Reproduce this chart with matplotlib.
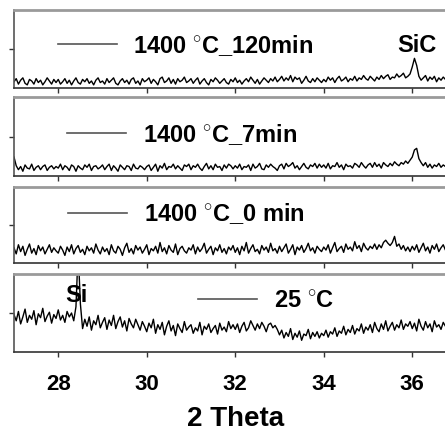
import matplotlib.pyplot as plt
from matplotlib.lines import Line2D
import numpy as np

plt.rcParams['font.family'] = ['Liberation Sans', 'DejaVu Sans']
plt.rcParams['font.weight'] = 'bold'
plt.rcParams['mathtext.fontset'] = 'custom'
plt.rcParams['mathtext.rm'] = 'Liberation Sans:bold'
plt.rcParams['mathtext.default'] = 'rm'

# 2 theta grid, 0.05 deg step
two_theta = np.round(np.arange(27.0, 36.81, 0.05), 2)

# intensities (arb. units, each panel scaled 0..100)
i_120min = [
    8, 12, 5, 10, 13, 6, 4, 11, 9, 5, 12, 7, 10, 4, 8, 13, 9, 5, 11, 7,
    11, 5, 8, 12, 6, 10, 4, 9, 13, 7, 5, 11, 8, 12, 6, 9, 4, 10, 13, 7,
    9, 5, 12, 7, 10, 13, 6, 4, 9, 12, 7, 10, 5, 11, 13, 6, 9, 4, 12, 8,
    10, 13, 6, 11, 8, 4, 12, 14, 7, 9, 13, 6, 11, 5, 12, 8, 10, 14, 7, 9,
    12, 6, 10, 13, 5, 9, 12, 7, 4, 11, 8, 13, 10, 6, 9, 12, 7, 5, 11, 8,
    13, 7, 10, 5, 9, 12, 8, 14, 10, 6, 11, 5, 9, 13, 10, 7, 12, 9, 14, 8,
    11, 15, 9, 13, 10, 16, 8, 14, 11, 13, 6, 10, 15, 9, 7, 12, 8, 13, 10, 7,
    11, 8, 14, 10, 13, 7, 12, 15, 9, 11, 14, 8, 12, 10, 15, 9, 13, 11, 16, 12,
    10, 15, 12, 9, 14, 11, 16, 12, 15, 17, 11, 14, 13, 18, 14, 16, 19, 13, 15, 18,
    27, 38, 29, 15, 10, 13, 16, 9, 14, 11, 15, 8, 13, 10, 14, 11, 13,
]
i_7min = [
    24, 13, 8, 12, 6, 14, 10, 9, 15, 7, 11, 13, 8, 12, 14, 7, 11, 13, 9, 12,
    10, 15, 8, 13, 11, 7, 14, 12, 6, 13, 10, 8, 14, 11, 15, 7, 12, 13, 9, 11,
    14, 8, 12, 15, 7, 13, 10, 6, 14, 11, 8, 13, 12, 7, 15, 10, 9, 13, 11, 8,
    12, 14, 7, 11, 15, 6, 13, 10, 16, 8, 12, 11, 15, 9, 13, 10, 7, 14, 12, 15,
    8, 13, 11, 15, 10, 7, 12, 16, 9, 13, 8, 15, 11, 12, 7, 14, 10, 15, 13, 9,
    13, 10, 15, 8, 12, 11, 14, 7, 15, 10, 12, 16, 9, 8, 14, 11, 15, 12, 10, 7,
    13, 15, 9, 16, 12, 14, 17, 10, 13, 8, 12, 16, 11, 9, 14, 12, 16, 10, 15, 11,
    14, 10, 16, 9, 13, 12, 17, 11, 14, 8, 15, 12, 13, 10, 16, 14, 11, 17, 13, 10,
    14, 16, 11, 17, 12, 15, 10, 17, 14, 12, 16, 13, 18, 15, 13, 17, 15, 19, 16, 20,
    24, 33, 35, 22, 17, 13, 17, 11, 15, 10, 14, 12, 16, 11, 14, 12, 15,
]
i_0min = [
    20, 12, 24, 15, 22, 10, 18, 25, 13, 19, 11, 23, 16, 21, 12, 18, 24, 14, 20, 16,
    13, 22, 17, 10, 21, 15, 24, 12, 19, 23, 14, 18, 11, 22, 16, 20, 13, 25, 17, 12,
    21, 15, 19, 11, 24, 16, 13, 22, 18, 10, 20, 26, 14, 19, 12, 23, 17, 21, 13, 18,
    24, 11, 19, 16, 22, 13, 27, 15, 20, 12, 23, 17, 14, 25, 11, 19, 22, 16, 13, 20,
    17, 24, 12, 21, 15, 19, 26, 13, 18, 22, 11, 20, 16, 24, 14, 19, 12, 21, 17, 23,
    14, 20, 11, 22, 16, 27, 13, 19, 24, 15, 18, 12, 23, 17, 21, 14, 26, 16, 19, 13,
    22, 15, 20, 25, 13, 18, 24, 11, 21, 17, 23, 14, 19, 26, 16, 20, 13, 22, 18, 15,
    21, 17, 24, 13, 20, 27, 15, 19, 22, 14, 25, 18, 21, 16, 28, 19, 23, 15, 26, 20,
    17, 22, 19, 25, 18, 24, 20, 27, 30, 26, 23, 27, 35, 22, 25, 18, 23, 16, 21, 15,
    22, 17, 24, 14, 20, 26, 16, 21, 13, 23, 18, 25, 15, 20, 24, 17, 21,
]
i_25c = [
    48, 40, 52, 36, 45, 55, 38, 47, 42, 53, 35, 49, 44, 56, 39, 46, 51, 37, 48, 43,
    54, 41, 47, 38, 52, 45, 50, 40, 58, 130, 62, 30, 42, 33, 45, 28, 40, 35, 47, 31,
    38, 44, 29, 41, 34, 47, 30, 39, 45, 32, 40, 27, 43, 36, 31, 42, 35, 28, 39, 33,
    26, 37, 31, 42, 24, 35, 29, 38, 22, 33, 40, 27, 34, 21, 36, 30, 25, 39, 28, 32,
    35, 24, 31, 27, 38, 22, 33, 29, 36, 25, 30, 34, 23, 37, 28, 32, 26, 39, 30, 35,
    29, 36, 25, 33, 38, 27, 31, 40, 34, 28, 36, 30, 38, 33, 26, 35, 37, 31, 34, 29,
    22, 28, 18, 25, 20, 30, 16, 24, 19, 27, 15, 23, 21, 29, 17, 25, 20, 26, 18, 24,
    21, 28, 19, 26, 23, 31, 20, 27, 24, 33, 22, 29, 25, 34, 23, 30, 27, 36, 24, 32,
    28, 35, 25, 38, 30, 26, 36, 29, 40, 27, 33, 38, 28, 35, 31, 41, 29, 36, 33, 39,
    30, 37, 27, 42, 33, 28, 39, 31, 36, 26, 40, 32, 35, 29, 38, 33, 36,
]

series = [i_120min, i_7min, i_0min, i_25c]
labels = [r'1400 $^{\circ}$C_120min', r'1400 $^{\circ}$C_7min',
          r'1400 $^{\circ}$C_0 min', r'25 $^{\circ}$C']
x_ticks = [28, 30, 32, 34, 36]

W, H = 445, 434
fig = plt.figure(figsize=(W / 100, H / 100), dpi=100)

# panel layout in pixels: (top, bottom), legend anchor (axes frac)
panel_px = [(10, 88), (97, 176), (187, 263), (274, 352)]
legend_at = [(0.099, 0.55), (0.12, 0.53), (0.122, 0.645), (0.416, 0.654)]

left_px, right_px = 14, 456.5
axes = []
for k, (top, bot) in enumerate(panel_px):
    ax = fig.add_axes([left_px / W, 1 - bot / H, (right_px - left_px) / W, (bot - top) / H])
    ax.plot(two_theta, series[k], color='black', lw=1.0)
    ax.set_xlim(27, 37)
    ax.set_ylim(0, 100)
    ax.set_xticks(x_ticks)
    ax.set_yticks([50])
    ax.set_yticklabels([])
    ax.tick_params(axis='both', direction='out', length=3.5, width=1, color='#333333')
    ax.tick_params(axis='x', labelsize=16, pad=12)
    if k < 3:
        ax.set_xticklabels([])
    ax.spines['right'].set_visible(False)
    ax.spines['top'].set_color('#9a9a9a')
    ax.spines['top'].set_linewidth(2)
    ax.spines['left'].set_color('#555555')
    ax.spines['left'].set_linewidth(1.2)
    ax.spines['bottom'].set_color('#333333')
    ax.spines['bottom'].set_linewidth(1.2)
    h = Line2D([], [], color='#555555', lw=1.2)
    ax.legend([h], [labels[k]], loc='center left', bbox_to_anchor=legend_at[k],
              frameon=False, borderpad=0, borderaxespad=0, handlelength=2.5,
              handletextpad=0.7, prop={'size': 17, 'weight': 'bold'})
    axes.append(ax)

axes[0].text(36.1, 55, 'SiC', fontsize=17, fontweight='bold', ha='center', va='center')
axes[3].text(28.42, 73, 'Si', fontsize=17, fontweight='bold', ha='center', va='center', zorder=1)
axes[3].set_xlabel('2 Theta', fontsize=20, fontweight='bold', labelpad=8)

fig.savefig('out.png', dpi=100)
